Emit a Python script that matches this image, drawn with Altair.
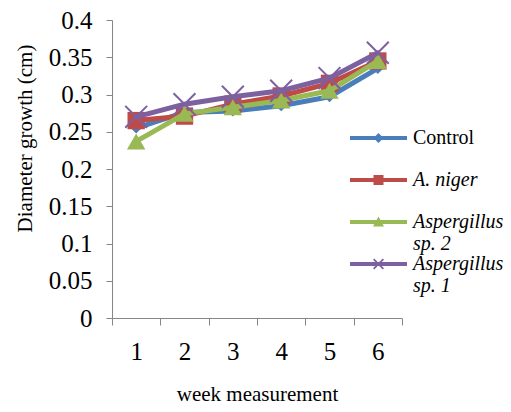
import altair as alt
import pandas as pd

weeks = ["1", "2", "3", "4", "5", "6"]
series_names = ["Control", "A. niger", "Aspergillus sp. 2", "Aspergillus sp. 1"]
control = [0.255, 0.276, 0.278, 0.285, 0.297, 0.335]
a_niger = [0.265, 0.271, 0.287, 0.298, 0.315, 0.345]
asp_sp2 = [0.237, 0.274, 0.283, 0.292, 0.305, 0.345]
asp_sp1 = [0.270, 0.287, 0.297, 0.305, 0.322, 0.356]
y_ticks = [0, 0.05, 0.1, 0.15, 0.2, 0.25, 0.3, 0.35, 0.4]

colors = ["#4A7EBB", "#BE4B48", "#98B954", "#7D60A0"]

rows = []
for name, vals in zip(series_names, [control, a_niger, asp_sp2, asp_sp1]):
    for w, v in zip(weeks, vals):
        rows.append({"week": w, "series": name, "value": v})
df = pd.DataFrame(rows)

FONT = "'Liberation Serif', 'Times New Roman', 'DejaVu Serif', serif"
AX = "#868686"

x_enc = alt.X(
    "week:O",
    sort=weeks,
    scale=alt.Scale(type="band", paddingInner=0, paddingOuter=0),
    axis=alt.Axis(
        title="week measurement", labelAngle=0, tickBand="extent",
        domainColor=AX, tickColor=AX, tickSize=7, grid=False,
        labelFont=FONT, labelFontSize=25, labelColor="black", labelPadding=14,
        titleFont=FONT, titleFontSize=21, titleFontWeight="normal",
        titleColor="black", titlePadding=19,
    ),
)
y_enc = alt.Y(
    "value:Q",
    scale=alt.Scale(domain=[0, 0.4], nice=False, zero=True),
    axis=alt.Axis(
        title="Diameter growth (cm)", values=y_ticks, format=".2~f",
        domainColor=AX, tickColor=AX, tickSize=6, grid=False,
        labelFont=FONT, labelFontSize=25, labelColor="black", labelPadding=14,
        titleFont=FONT, titleFontSize=21, titleFontWeight="normal",
        titleColor="black", titleX=-87, titleY=118, titleAngle=-90,
        titleAlign="center", titleBaseline="middle",
    ),
)

base = alt.Chart(df)

x_path = "M-1,-1L1,1M-1,1L1,-1"
marker_props = [
    dict(shape="diamond", size=121, filled=True),
    dict(shape="square", size=300, filled=True),
    dict(shape="triangle-up", size=340, filled=True),
    dict(shape=x_path, size=480, filled=False, strokeWidth=2),
]

layers = []
for name, col, mp in zip(series_names, colors, marker_props):
    sub = base.transform_filter(alt.datum.series == name)
    layers.append(
        sub.mark_line(color=col, strokeWidth=5, strokeCap="round", strokeJoin="round")
        .encode(x=x_enc, y=y_enc)
    )
    layers.append(
        sub.mark_point(color=col, opacity=1, **mp).encode(x=x_enc, y=y_enc)
    )

# legend symbol: a 20px box (size 400 -> 10 px per unit); the line spans 57px
L = 2.85
t = 0.2
def rect_line():
    return f"M{-L},{-t}H{L}V{t}H{-L}Z"
def sq(h):
    return f"M{-h},{-h}H{h}V{h}H{-h}Z"
def dia(h):
    return f"M0,{-h}L{h},0L0,{h}L{-h},0Z"
def tri(h):
    return f"M0,{-h}L{h},{0.8 * h:.3f}L{-h},{0.8 * h:.3f}Z"
def xs(h, w):
    return (f"M{-h},{-h + w:.3f}L{-h + w:.3f},{-h}L0,{-w}L{h - w:.3f},{-h}"
            f"L{h},{-h + w:.3f}L{w},0L{h},{h - w:.3f}L{h - w:.3f},{h}"
            f"L0,{w}L{-h + w:.3f},{h}L{-h},{h - w:.3f}L{-w},0Z")

legend_shapes = [
    rect_line() + dia(0.5),
    rect_line() + sq(0.5),
    rect_line() + tri(0.55),
    rect_line() + xs(0.55, 0.12),
]

leg = dict(
    title=None, orient="none", legendX=256.5, legendY=108, padding=0,
    symbolSize=400, symbolStrokeWidth=0, symbolOpacity=1,
    labelFont=FONT, labelFontSize=20, labelColor="black", labelOffset=24.5,
    labelBaseline="middle", labelLimit=200, rowPadding=0,
    labelFontStyle=alt.ExprRef(expr="datum.value == 'Control' ? 'normal' : 'italic'"),
    labelExpr="indexof(datum.value, 'Aspergillus') == 0 ? ['Aspergillus', substring(datum.value, 12)] : [datum.value, '']",
)

legend_layer = base.transform_filter("false").mark_point(filled=True, opacity=1).encode(
    x=x_enc,
    y=y_enc,
    color=alt.Color(
        "series:N",
        scale=alt.Scale(domain=series_names, range=colors),
        legend=alt.Legend(**leg),
    ),
    shape=alt.Shape(
        "series:N",
        scale=alt.Scale(domain=series_names, range=legend_shapes),
        legend=alt.Legend(**leg),
    ),
)

chart = alt.layer(*layers, legend_layer).properties(
    width=290,
    height=298,
    autosize=alt.AutoSizeParams(type="none"),
    padding={"left": 104, "top": 12, "right": 101, "bottom": 86},
    background="white",
).configure_view(stroke=None)

chart.save("out.html", embed_options={"renderer": "svg", "actions": False})
